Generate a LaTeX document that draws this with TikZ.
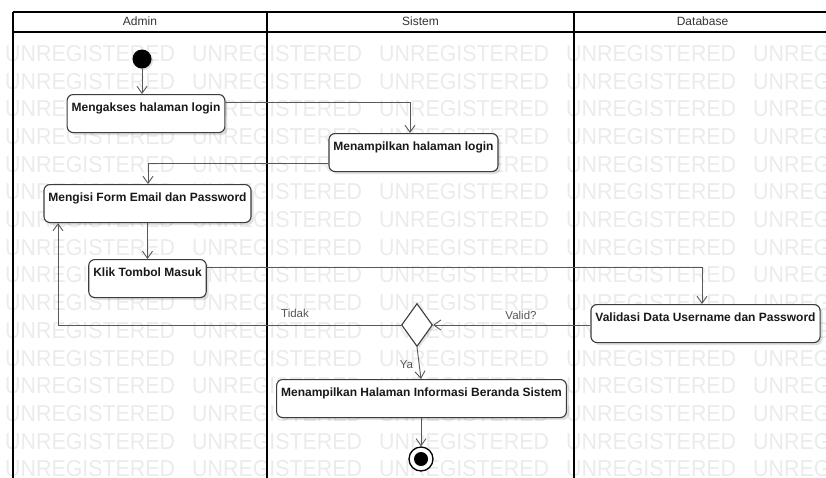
\documentclass[tikz,border=0pt]{standalone}
\usepackage{fontspec}
\setmainfont{Liberation Sans}
\usetikzlibrary{arrows.meta,shapes.geometric,shadows}
\definecolor{wmc}{HTML}{EBEBEB}
\definecolor{edgec}{HTML}{585858}
\definecolor{boxc}{HTML}{3C3C3C}
\definecolor{hdrc}{HTML}{333333}
\definecolor{lblc}{HTML}{555555}

\begin{document}
\begin{tikzpicture}[x=1pt,y=-1pt,
  action/.style={draw=boxc, line width=1.1pt, rounded corners=6pt, fill=white,
    font=\fontsize{12}{14}\selectfont\bfseries, text=black!90,
    inner xsep=4.5pt, inner ysep=3pt, text height=14pt, text depth=18pt, anchor=north,
    drop shadow={shadow xshift=2.5pt, shadow yshift=-2.5pt, opacity=0.12, fill=black}},
  decision/.style={diamond, draw=boxc, line width=1.1pt, fill=white, inner sep=0pt,
    minimum width=31pt, minimum height=43pt,
    drop shadow={shadow xshift=2pt, shadow yshift=-2pt, opacity=0.10, fill=black}},
  initial/.style={circle, fill=black, inner sep=0pt, minimum size=19pt,
    drop shadow={shadow xshift=1.5pt, shadow yshift=-1.5pt, opacity=0.12, fill=black}},
  final/.style={circle, draw=black, line width=1.3pt, fill=white, inner sep=0pt, minimum size=24pt,
    path picture={\fill[black] (path picture bounding box.center) circle (7pt);}},
  flow/.style={draw=edgec, line width=0.9pt, -{Straight Barb[length=7pt,width=10pt]}},
  lane/.style={draw=black, line width=1.8pt},
  hdr/.style={font=\fontsize{12}{14}\selectfont, text=hdrc},
  guard/.style={font=\fontsize{11.5}{13}\selectfont, text=lblc},
  wmark/.style={font=\fontsize{23}{25}\selectfont, text=wmc, inner sep=0pt, anchor=base west}
]
\useasboundingbox (0,0) rectangle (826,477);
\clip (0,0) rectangle (826,477);

% background watermark rows
\foreach \r in {0,...,15} {
  \foreach \c in {0,...,4} {
    \node[wmark] (wm-\r-\c) at ({5+187*\c},{61.3+27.7*\r}) {\scalebox{0.93}[1]{UNREGISTERED}};
  }
}

% swimlane frame
\draw[lane, line width=1.4pt] (13,12) -- (840,12);
\draw[lane] (13,32) -- (840,32);
\draw[lane] (13,12) -- (13,490);
\draw[lane] (267,12) -- (267,490);
\draw[lane] (574,12) -- (574,490);

% lane headers
\node[hdr] (hAdmin) at (140,21.5) {Admin};
\node[hdr] (hSistem) at (420.5,21.5) {Sistem};
\node[hdr] (hDatabase) at (702.5,21.5) {Database};

% activities
\node[initial] (init) at (142,59) {};
\node[action] (A1) at (146,94) {Mengakses halaman login};
\node[action] (S1) at (413.5,133) {Menampilkan halaman login};
\node[action] (A2) at (147.5,184) {Mengisi Form Email dan Password};
\node[action] (A3) at (147.5,259) {Klik Tombol Masuk};
\node[action] (D1) at (705.5,304) {Validasi Data Username dan Password};
\node[decision] (dec) at (417,325) {};
\node[action] (S2) at (421.5,379) {Menampilkan Halaman Informasi Beranda Sistem};
\node[final] (fin) at (421,459) {};

% control flow
\draw[flow] (init) -- (init |- A1.north);
\draw[flow] ([yshift=11pt]A1.east) -| ([xshift=-3.5pt]S1.north);
\draw[flow] ([yshift=-11pt]S1.west) -| ([xshift=0.5pt]A2.north);
\draw[flow] (A2.south) -- (A3.north);
\draw[flow] ([yshift=11pt]A3.east) -| ([xshift=-3.5pt]D1.north);
\draw[flow] (D1.west |- dec) -- (dec.east);
\draw[flow] (dec.west) -| ([xshift=-89.5pt]A2.south);
\draw[flow] (dec.south) -- ([xshift=-0.5pt]S2.north);
\draw[flow] (S2.south -| fin) -- (fin.north);

% guards
\node[guard] (tidak) at (295,313) {Tidak};
\node[guard] (valid) at (521,315) {Valid?};
\node[guard] (ya) at (406.5,365) {Ya};
\end{tikzpicture}
\end{document}
